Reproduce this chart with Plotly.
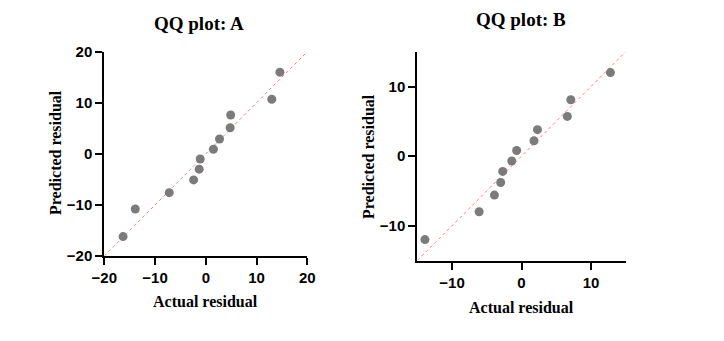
import plotly.graph_objects as go

W, H = 724, 341
OFF = 8  # page body margin in the browser

# Panel A data
a_actual = [-16.3, -13.9, -7.2, -2.4, -1.3, -1.1, 1.5, 2.7, 4.8, 4.9, 13.0, 14.6]
a_pred = [-16.2, -10.8, -7.6, -5.1, -3.0, -1.0, 0.9, 2.9, 5.1, 7.6, 10.7, 16.0]
a_line = [-20, 20]
a_ticks = [-20, -10, 0, 10, 20]

# Panel B data
b_actual = [-13.9, -6.1, -3.9, -3.0, -2.7, -1.4, -0.7, 1.8, 2.3, 6.6, 7.1, 12.8]
b_pred = [-12.0, -8.0, -5.6, -3.8, -2.2, -0.7, 0.8, 2.2, 3.8, 5.7, 8.1, 12.0]
b_line = [-15, 15]
b_ticks = [-10, 0, 10]

titles = ["QQ plot: A", "QQ plot: B"]
x_title = "Actual residual"
y_title = "Predicted residual"

MARK = "#7b7b7b"
LINE = "#ff7a7a"
SERIF = "Liberation Serif, Times New Roman, serif"
SANS = "Liberation Sans, Arial, sans-serif"

fig = go.Figure()
fig.add_trace(go.Scatter(x=a_line, y=a_line, mode="lines", xaxis="x", yaxis="y",
                         line=dict(color=LINE, width=1, dash="dot"), hoverinfo="skip"))
fig.add_trace(go.Scatter(x=a_actual, y=a_pred, mode="markers", xaxis="x", yaxis="y",
                         marker=dict(color=MARK, size=9)))
fig.add_trace(go.Scatter(x=b_line, y=b_line, mode="lines", xaxis="x2", yaxis="y2",
                         line=dict(color=LINE, width=1, dash="dot"), hoverinfo="skip"))
fig.add_trace(go.Scatter(x=b_actual, y=b_pred, mode="markers", xaxis="x2", yaxis="y2",
                         marker=dict(color=MARK, size=9)))

def px_x(p):
    return (p - OFF) / W

def px_y(p):
    return 1 - (p - OFF) / H

axis_common = dict(showgrid=False, zeroline=False, showline=True, linecolor="black",
                   linewidth=2, ticks="outside", ticklen=7, tickwidth=2, tickcolor="black",
                   tickfont=dict(family=SANS, size=15, color="black", weight="bold"),
                   fixedrange=True, automargin=False)

fig.update_layout(
    width=W, height=H, showlegend=False,
    margin=dict(l=0, r=0, t=0, b=0),
    paper_bgcolor="white", plot_bgcolor="white",
    xaxis=dict(domain=[px_x(104.3), px_x(307.3)], range=[-20, 20], tickvals=a_ticks,
               anchor="y", **axis_common),
    yaxis=dict(domain=[px_y(256), px_y(51.7)], range=[-20, 20], tickvals=a_ticks,
               anchor="x", **axis_common),
    xaxis2=dict(domain=[px_x(417.3), px_x(625.7)], range=[-15, 15], tickvals=b_ticks,
                anchor="y2", **axis_common),
    yaxis2=dict(domain=[px_y(260.5), px_y(51.7)], range=[-15, 15], tickvals=b_ticks,
                anchor="x2", **axis_common),
)

def ann(text, x, y, size, angle=0):
    fig.add_annotation(text=text, x=px_x(x), y=px_y(y), xref="paper", yref="paper",
                       showarrow=False, xanchor="center", yanchor="middle", textangle=angle,
                       font=dict(family=SERIF, size=size, color="black", weight="bold"))

ann(titles[0], 199, 24, 19)
ann(titles[1], 521, 20, 19)
ann(x_title, 205.5, 301, 16)
ann(x_title, 521.5, 307, 16)
ann(y_title, 55, 153, 16, -90)
ann(y_title, 368, 157, 16, -90)

fig.write_html("out.html")
